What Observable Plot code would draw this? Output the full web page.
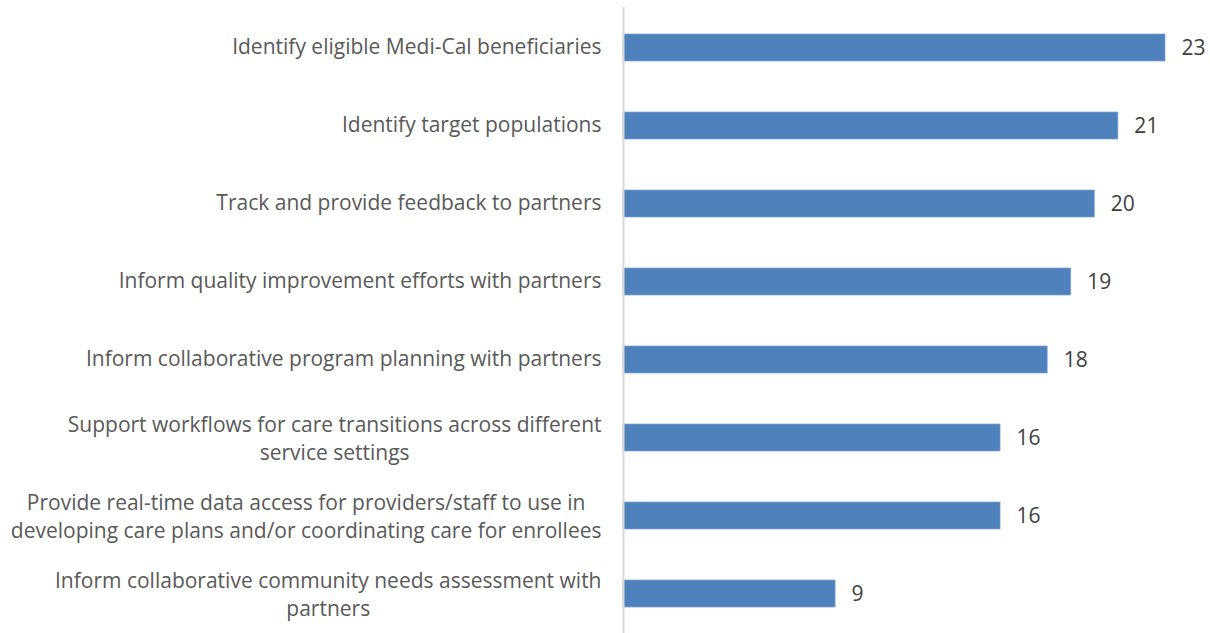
<!DOCTYPE html>
<html>
<head>
<meta charset="utf-8">
<script src="https://cdn.jsdelivr.net/npm/d3@7"></script>
<script src="https://cdn.jsdelivr.net/npm/@observablehq/plot@0.6"></script>
<style>
  html, body { margin: 0; padding: 0; background: #fff; }
  #chart svg { display: block; }
</style>
</head>
<body>
<div id="chart"></div>
<script>
const categories = [
  "Identify eligible Medi-Cal beneficiaries",
  "Identify target populations",
  "Track and provide feedback to partners",
  "Inform quality improvement efforts with partners",
  "Inform collaborative program planning with partners",
  "Support workflows for care transitions across different\nservice settings",
  "Provide real-time data access for providers/staff to use in\ndeveloping care plans and/or coordinating care for enrollees",
  "Inform collaborative community needs assessment with\npartners"
];
const values = [23, 21, 20, 19, 18, 16, 16, 9];

const FONT_SIZE = 21;
const FONT_FAMILY = "'Open Sans', sans-serif";

// measure widest line of each label so multi-line labels are centred within a right-aligned block
const ctx = document.createElement("canvas").getContext("2d");
ctx.font = `${FONT_SIZE}px ${FONT_FAMILY}`;
const blockWidth = c => Math.max(...c.split("\n").map(l => ctx.measureText(l).width));

const data = categories.map((c, i) => ({
  category: c, value: values[i], w: blockWidth(c), lines: c.split("\n").length
}));

const labelMarks = data.map(d =>
  Plot.text([d], {x: 0, y: "category", text: "category", textAnchor: "middle",
    dx: -22 - d.w / 2, dy: d.lines > 1 ? -0.5 : -2.5,
    fill: "#595959", fontSize: FONT_SIZE, lineHeight: 1.333})
);

const chart = Plot.plot({
  width: 1210,
  height: 633,
  marginTop: 7,
  marginBottom: 0,
  marginLeft: 623,
  marginRight: 45,
  style: {fontFamily: FONT_FAMILY, background: "#fff"},
  x: {domain: [0, 23], range: [623, 1165], axis: null},
  y: {domain: categories, range: [5.6, 635.4], paddingInner: 0.657, paddingOuter: 0.3285, axis: null},
  marks: [
    Plot.barX(data, {x: "value", y: "category", fill: "#4f81bd", stroke: "#7da2d0", strokeWidth: 0.7}),
    Plot.ruleX([0], {stroke: "#d9d9d9", strokeWidth: 2}),
    ...labelMarks,
    Plot.text(data, {x: "value", y: "category", text: d => String(d.value), textAnchor: "start", dx: 16, dy: 0.5, fill: "#404040", fontSize: FONT_SIZE})
  ]
});
document.getElementById("chart").appendChild(chart);
</script>
</body>
</html>
